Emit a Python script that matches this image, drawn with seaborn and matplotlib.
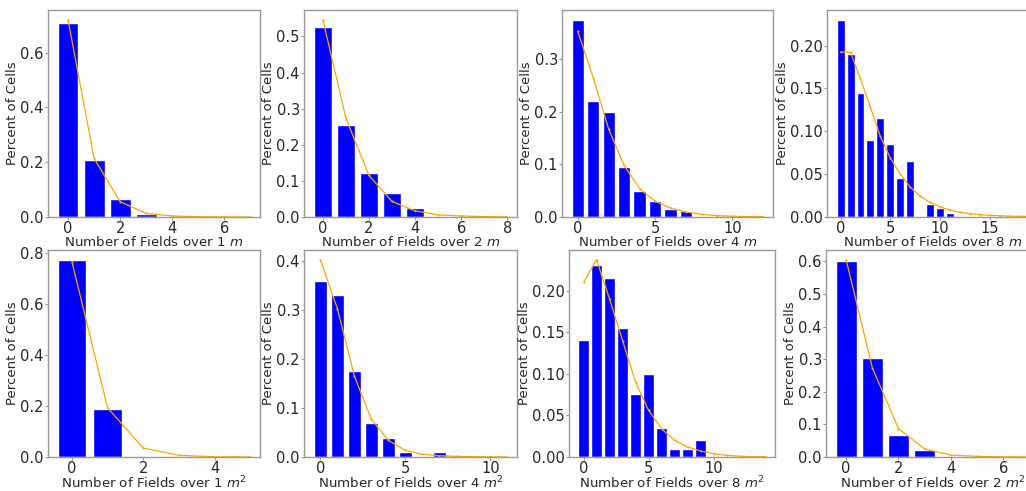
import matplotlib
matplotlib.use("Agg")
import matplotlib.pyplot as plt
from matplotlib.ticker import MultipleLocator
import numpy as np
import pandas as pd
import seaborn as sns

# Observed share of cells per field count (bars) and fitted distribution (line)
bars_1m = [0.71, 0.21, 0.065, 0.01]
fit_1m = [0.72, 0.214, 0.056, 0.013, 0.004, 0.001, 0.0003, 0.0001]

bars_2m = [0.527, 0.256, 0.121, 0.066, 0.025]
fit_2m = [0.546, 0.273, 0.115, 0.043, 0.017, 0.006, 0.003, 0.001, 0.0005]

bars_4m = [0.375, 0.22, 0.2, 0.095, 0.05, 0.03, 0.015, 0.011]
fit_4m = [0.353, 0.265, 0.167, 0.098, 0.054, 0.030, 0.017, 0.0095, 0.005,
          0.0025, 0.0015, 0.0008, 0.0004]

bars_8m = [0.23, 0.19, 0.145, 0.09, 0.115, 0.085, 0.045, 0.065, 0.0, 0.015,
           0.01, 0.005]
fit_8m = [0.1926, 0.192, 0.161, 0.128, 0.094, 0.069, 0.050, 0.035, 0.0245,
          0.017, 0.012, 0.008, 0.0055, 0.004, 0.0027, 0.002, 0.0015, 0.001,
          0.0008, 0.0006]

bars_1m2 = [0.774, 0.19]
fit_1m2 = [0.767, 0.193, 0.035, 0.0066, 0.001, 0.0002]

bars_4m2 = [0.36, 0.331, 0.175, 0.07, 0.039, 0.01, 0.0, 0.01]
fit_4m2 = [0.403, 0.303, 0.165, 0.077, 0.034, 0.0136, 0.0054, 0.0027, 0.0014,
           0.0007, 0.0003, 0.0001]

bars_8m2 = [0.141, 0.231, 0.215, 0.155, 0.0756, 0.1, 0.035, 0.01, 0.01, 0.02]
fit_8m2 = [0.21, 0.237, 0.19, 0.14, 0.09, 0.056, 0.034, 0.020, 0.012, 0.0072,
           0.004, 0.002, 0.001, 0.0005, 0.0003]

bars_2m2 = [0.6, 0.305, 0.067, 0.0205]
fit_2m2 = [0.605, 0.274, 0.087, 0.0246, 0.006, 0.002, 0.0005, 0.0002]

xlabels = [
    "Number of Fields over 1 $m$",
    "Number of Fields over 2 $m$",
    "Number of Fields over 4 $m$",
    "Number of Fields over 8 $m$",
    "Number of Fields over 1 $m^2$",
    "Number of Fields over 4 $m^2$",
    "Number of Fields over 8 $m^2$",
    "Number of Fields over 2 $m^2$",
]
ylabel = "Percent of Cells"

panels = [
    (bars_1m, fit_1m), (bars_2m, fit_2m), (bars_4m, fit_4m), (bars_8m, fit_8m),
    (bars_1m2, fit_1m2), (bars_4m2, fit_4m2), (bars_8m2, fit_8m2),
    (bars_2m2, fit_2m2),
]

sns.set_style("white", {"axes.edgecolor": "0.6"})
plt.rcParams["font.family"] = ["DejaVu Sans"]
plt.rcParams["font.size"] = 10

W, H = 1026, 491
fig = plt.figure(figsize=(W / 100, H / 100), dpi=100)

# axes boxes in pixels: (left, top, right, bottom) and x tick spacing
boxes = [
    (48, 10, 260, 217), (304, 10, 517, 217), (562, 10, 773, 217),
    (827, 10, 1039, 217),
    (48, 250, 260, 457), (304, 250, 517, 457), (569, 250, 775, 457),
    (826, 250, 1039, 457),
]
xsteps = [2, 2, 5, 5, 2, 5, 5, 2]

for (bars, fit), label, (l, t, r, b), step in zip(panels, xlabels, boxes,
                                                   xsteps):
    ax = fig.add_axes([l / W, (H - b) / H, (r - l) / W, (b - t) / H])
    bar_df = pd.DataFrame({"count": np.arange(len(bars)), "share": bars})
    fit_df = pd.DataFrame({"count": np.arange(len(fit)), "share": fit})
    sns.barplot(data=bar_df, x="count", y="share", native_scale=True,
                color="blue", saturation=1, width=0.8,
                edgecolor="white", linewidth=1, ax=ax)
    sns.lineplot(data=fit_df, x="count", y="share", color="orange",
                 linewidth=0.9, marker=".", markersize=3, markeredgewidth=0,
                 ax=ax)
    ax.relim()
    ax.autoscale()
    ax.xaxis.set_major_locator(MultipleLocator(step))
    ax.set_xlabel(label, fontsize=9.6, labelpad=-0.8)
    ax.set_ylabel(ylabel, fontsize=9.5, labelpad=1)
    ax.tick_params(axis="both", which="major", labelsize=10.5, length=2,
                   width=0.8, color="0.6", pad=1, bottom=True, left=True)
    for sp in ax.spines.values():
        sp.set_linewidth(1)
        sp.set_color("0.6")

fig.savefig("out.png", dpi=100)
